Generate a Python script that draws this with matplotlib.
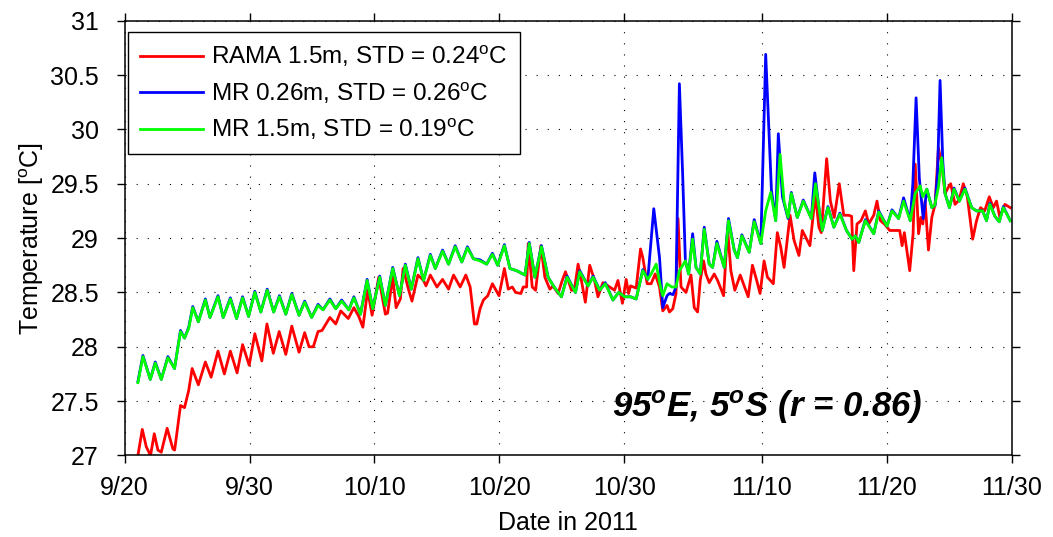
import numpy as np
import matplotlib
matplotlib.use("Agg")
from matplotlib import pyplot as plt

plt.rcParams['font.family'] = 'Liberation Sans'
plt.rcParams['mathtext.fontset'] = 'custom'
plt.rcParams['mathtext.rm'] = 'Liberation Sans'
plt.rcParams['mathtext.it'] = 'Liberation Sans:italic'
plt.rcParams['mathtext.bf'] = 'Liberation Sans:italic:bold'

# days since 20 Sep 2011, temperature in degC
rama_days = [1.06, 1.41, 1.73, 2.07, 2.37, 2.66, 2.93, 3.4, 3.86, 4.0, 4.47, 4.79, 5.13, 5.4, 5.9,
             6.46, 6.92, 7.47, 7.98, 8.46, 9.0, 9.44, 9.97, 10.42, 10.98, 11.39, 11.9, 12.37, 12.9,
             13.38, 13.96, 14.41, 14.76, 15.1, 15.48, 15.8, 16.43, 16.9, 17.3, 17.9, 18.35, 18.74,
             19.07, 19.45, 19.81, 20.34, 20.87, 21.05, 21.46, 21.73, 22.07, 22.29, 22.74, 23.0,
             23.48, 23.93, 24.12, 24.47, 25.0, 25.45, 25.93, 26.33, 26.86, 27.31, 27.66, 28.0,
             28.19, 28.45, 28.72, 29.07, 29.44, 29.97, 30.4, 30.71, 31.03, 31.3, 31.72, 31.91,
             32.18, 32.31, 32.63, 32.9, 33.32, 33.64, 34.04, 34.3, 34.7, 35.0, 35.29, 35.77, 36.0,
             36.3, 36.55, 36.88, 37.23, 37.6, 37.89, 38.29, 38.7, 39.22, 39.49, 39.85, 40.15,
             40.34, 40.5, 40.95, 41.3, 41.48, 41.83, 42.15, 42.47, 42.82, 43.08, 43.42, 43.61,
             43.88, 44.14, 44.3, 44.54, 44.94, 45.34, 45.6, 45.87, 46.08, 46.35, 46.53, 46.8,
             47.2, 47.47, 47.95, 48.27, 48.53, 48.85, 49.28, 49.92, 50.26, 50.6, 50.87, 51.19,
             51.46, 51.93, 52.25, 52.52, 52.79, 53.27, 53.59, 53.98, 54.25, 54.86, 55.3, 55.58,
             55.77, 56.2, 56.5, 56.81, 57.21, 57.57, 57.96, 58.2, 58.37, 58.63, 58.95, 59.3,
             59.57, 59.97, 60.23, 60.5, 60.82, 61.25, 61.7, 62.05, 62.24, 62.42, 62.85, 63.12,
             63.29, 63.56, 63.74, 63.9, 64.08, 64.35, 64.62, 64.88, 65.15, 65.41, 65.68, 65.95,
             66.13, 66.48, 66.8, 67.14, 67.46, 67.89, 68.2, 68.52, 68.85, 69.22, 69.54, 69.8,
             70.07, 70.47, 70.9]
rama_temp = [27.00, 27.24, 27.08, 27.00, 27.20, 27.05, 27.03, 27.25, 27.06, 27.05, 27.46, 27.44,
             27.60, 27.80, 27.65, 27.86, 27.72, 27.96, 27.75, 27.96, 27.76, 28.02, 27.83, 28.12,
             27.87, 28.21, 27.94, 28.14, 27.93, 28.19, 27.95, 28.13, 28.00, 28.00, 28.14, 28.15,
             28.27, 28.21, 28.33, 28.26, 28.36, 28.28, 28.18, 28.52, 28.29, 28.64, 28.30, 28.31,
             28.64, 28.36, 28.44, 28.72, 28.52, 28.42, 28.66, 28.61, 28.56, 28.66, 28.55, 28.62,
             28.53, 28.66, 28.55, 28.66, 28.55, 28.21, 28.21, 28.35, 28.43, 28.47, 28.58, 28.47,
             28.72, 28.53, 28.55, 28.50, 28.49, 28.55, 28.55, 28.95, 28.55, 28.52, 28.93, 28.64,
             28.53, 28.56, 28.49, 28.60, 28.69, 28.52, 28.52, 28.76, 28.62, 28.41, 28.75, 28.62,
             28.46, 28.59, 28.56, 28.52, 28.61, 28.40, 28.62, 28.49, 28.56, 28.54, 28.90, 28.82,
             28.58, 28.58, 28.67, 28.55, 28.33, 28.38, 28.32, 28.35, 28.49, 29.18, 28.55, 28.50,
             28.66, 28.36, 28.32, 28.61, 28.79, 28.67, 28.59, 28.67, 28.61, 28.47, 29.08, 28.70,
             28.52, 28.66, 28.46, 28.75, 28.61, 28.49, 28.79, 28.64, 28.58, 29.05, 28.92, 28.73,
             29.21, 28.98, 28.84, 29.07, 28.93, 29.40, 29.10, 29.05, 29.73, 29.34, 29.19, 29.50,
             29.21, 29.21, 29.20, 28.70, 29.13, 29.16, 29.25, 29.13, 29.21, 29.34, 29.16, 29.13,
             29.07, 29.07, 29.07, 28.93, 29.05, 28.70, 29.04, 29.68, 29.04, 29.19, 29.13, 29.34,
             28.89, 29.19, 29.31, 29.83, 29.68, 29.41, 29.47, 29.50, 29.31, 29.35, 29.50, 29.38,
             28.99, 29.16, 29.28, 29.25, 29.38, 29.28, 29.34, 29.19, 29.31, 29.28]

mr15_days = [1.06, 1.46, 2.05, 2.45, 2.93, 3.46, 3.99, 4.47, 4.79, 5.13, 5.45, 5.9, 6.46, 6.83,
             7.47, 7.89, 8.46, 8.96, 9.44, 9.92, 10.42, 10.9, 11.41, 11.93, 12.39, 12.9, 13.38,
             13.96, 14.41, 14.97, 15.48, 15.88, 16.43, 16.9, 17.37, 17.95, 18.35, 18.88, 19.41,
             19.86, 20.42, 20.87, 21.46, 22.0, 22.47, 22.95, 23.48, 23.93, 24.47, 24.87, 25.45,
             25.93, 26.46, 26.99, 27.44, 27.92, 28.45, 28.98, 29.44, 29.86, 30.4, 30.85, 31.38,
             32.05, 32.39, 32.84, 33.37, 33.9, 34.38, 34.97, 35.42, 36.09, 36.43, 37.1, 37.5,
             38.03, 38.48, 39.09, 39.55, 40.02, 40.5, 40.95, 41.48, 41.88, 42.15, 42.55, 42.9,
             43.08, 43.42, 43.8, 44.14, 44.41, 44.89, 45.15, 45.47, 45.74, 46.08, 46.4, 46.8,
             47.07, 47.41, 48.0, 48.34, 48.8, 49.06, 49.41, 50.0, 50.4, 50.93, 51.32, 51.72,
             52.12, 52.47, 52.79, 53.11, 53.37, 53.85, 54.33, 54.97, 55.31, 55.58, 55.85, 56.3,
             56.78, 57.26, 57.79, 58.24, 58.5, 58.77, 59.3, 59.97, 60.37, 61.03, 61.43, 61.96,
             62.36, 62.89, 63.29, 63.69, 63.9, 64.22, 64.62, 64.85, 65.15, 65.41, 65.68, 66.03,
             66.4, 66.83, 67.27, 67.81, 68.2, 68.69, 69.0, 69.27, 69.67, 70.02, 70.34, 70.9]
mr15_temp = [27.67, 27.91, 27.70, 27.85, 27.70, 27.90, 27.80, 28.14, 28.08, 28.17, 28.36, 28.23,
             28.43, 28.27, 28.46, 28.27, 28.44, 28.26, 28.45, 28.28, 28.50, 28.32, 28.52, 28.32,
             28.46, 28.30, 28.48, 28.29, 28.41, 28.27, 28.38, 28.34, 28.43, 28.35, 28.42, 28.34,
             28.45, 28.30, 28.61, 28.35, 28.64, 28.38, 28.72, 28.47, 28.75, 28.53, 28.81, 28.61,
             28.84, 28.72, 28.88, 28.76, 28.92, 28.78, 28.91, 28.81, 28.79, 28.76, 28.85, 28.75,
             28.93, 28.72, 28.70, 28.66, 28.95, 28.64, 28.92, 28.64, 28.55, 28.46, 28.64, 28.50,
             28.69, 28.56, 28.64, 28.52, 28.58, 28.43, 28.50, 28.46, 28.46, 28.44, 28.70, 28.62,
             28.67, 28.76, 28.55, 28.47, 28.58, 28.55, 28.55, 28.70, 28.79, 28.67, 28.99, 28.73,
             28.67, 29.08, 28.76, 28.73, 28.95, 28.73, 29.16, 28.89, 28.82, 29.02, 28.87, 29.15,
             28.95, 29.25, 29.42, 29.16, 29.77, 29.34, 29.19, 29.41, 29.19, 29.34, 29.18, 29.50,
             29.28, 29.07, 29.28, 29.10, 29.22, 29.07, 28.99, 29.02, 28.96, 29.16, 29.04, 29.24,
             29.11, 29.25, 29.18, 29.34, 29.16, 29.41, 29.48, 29.38, 29.45, 29.28, 29.30, 29.47,
             29.74, 29.41, 29.28, 29.45, 29.34, 29.45, 29.28, 29.25, 29.25, 29.16, 29.31, 29.20,
             29.15, 29.28, 29.16]

mr026_days = [1.06, 1.46, 2.05, 2.45, 2.93, 3.46, 3.99, 4.47, 4.79, 5.13, 5.45, 5.9, 6.46, 6.83,
              7.47, 7.89, 8.46, 8.96, 9.44, 9.92, 10.42, 10.9, 11.41, 11.93, 12.39, 12.9, 13.38,
              13.96, 14.41, 14.97, 15.48, 15.88, 16.43, 16.9, 17.37, 17.95, 18.35, 18.88, 19.41,
              19.86, 20.42, 20.87, 21.46, 22.0, 22.47, 22.95, 23.48, 23.93, 24.47, 24.87, 25.45,
              25.93, 26.46, 26.99, 27.44, 27.92, 28.45, 28.98, 29.44, 29.86, 30.4, 30.85, 31.38,
              32.05, 32.39, 32.84, 33.37, 33.9, 34.38, 34.97, 35.42, 36.09, 36.43, 37.1, 37.5,
              38.03, 38.48, 39.09, 39.55, 40.02, 40.5, 40.95, 41.48, 41.88, 42.36, 42.82, 43.08,
              43.42, 43.61, 43.9, 44.14, 44.41, 44.67, 44.89, 45.15, 45.47, 45.74, 46.08, 46.4,
              46.8, 47.07, 47.41, 48.0, 48.34, 48.8, 49.06, 49.41, 50.0, 50.4, 50.93, 51.32,
              51.78, 52.12, 52.33, 52.66, 53.11, 53.37, 53.85, 54.33, 54.97, 55.25, 55.58, 55.85,
              56.3, 56.78, 57.26, 57.79, 58.24, 58.5, 58.77, 59.3, 59.97, 60.37, 61.03, 61.43,
              61.96, 62.36, 62.89, 63.1, 63.36, 63.62, 63.93, 64.22, 64.62, 64.88, 65.08, 65.28,
              65.5, 65.68, 66.03, 66.4, 66.83, 67.27, 67.81, 68.2, 68.69, 69.0, 69.27, 69.67,
              70.02, 70.34, 70.9]
mr026_temp = [27.68, 27.92, 27.70, 27.86, 27.70, 27.91, 27.80, 28.15, 28.08, 28.18, 28.37, 28.23,
              28.44, 28.27, 28.47, 28.27, 28.45, 28.26, 28.46, 28.28, 28.51, 28.32, 28.53, 28.32,
              28.47, 28.30, 28.49, 28.29, 28.42, 28.27, 28.39, 28.34, 28.44, 28.35, 28.43, 28.34,
              28.46, 28.30, 28.62, 28.35, 28.65, 28.38, 28.73, 28.47, 28.76, 28.53, 28.82, 28.61,
              28.85, 28.72, 28.89, 28.76, 28.93, 28.78, 28.92, 28.81, 28.80, 28.76, 28.86, 28.75,
              28.94, 28.72, 28.70, 28.66, 28.96, 28.64, 28.93, 28.64, 28.55, 28.46, 28.65, 28.50,
              28.70, 28.56, 28.65, 28.52, 28.59, 28.43, 28.50, 28.46, 28.46, 28.44, 28.71, 28.62,
              29.27, 28.82, 28.36, 28.47, 28.49, 28.48, 28.55, 30.42, 29.59, 28.79, 28.67, 29.04,
              28.73, 28.67, 29.10, 28.76, 28.73, 28.97, 28.73, 29.18, 28.89, 28.82, 29.03, 28.87,
              29.17, 28.95, 30.69, 29.44, 29.16, 29.96, 29.38, 29.18, 29.42, 29.19, 29.35, 29.18,
              29.60, 29.28, 29.07, 29.29, 29.10, 29.23, 29.07, 28.99, 29.02, 28.96, 29.17, 29.04,
              29.25, 29.11, 29.26, 29.18, 29.37, 29.16, 29.50, 30.29, 29.55, 29.18, 29.45, 29.28,
              29.30, 29.60, 30.45, 29.70, 29.41, 29.28, 29.46, 29.34, 29.46, 29.28, 29.25, 29.25,
              29.16, 29.32, 29.20, 29.15, 29.29, 29.16]

tick_days = [0, 10, 20, 30, 40, 51, 61, 71]
tick_labels = ['9/20', '9/30', '10/10', '10/20', '10/30', '11/10', '11/20', '11/30']
yticks = [27, 27.5, 28, 28.5, 29, 29.5, 30, 30.5, 31]

fig = plt.figure(figsize=(10.53, 5.37), dpi=100)
ax = fig.add_axes([0.1184, 0.1518, 0.8422, 0.8097])

ax.plot(rama_days, rama_temp, color=(1, 0, 0), lw=2,
        label='RAMA 1.5m, STD = 0.24$^{\\mathrm{o}}$C')
ax.plot(mr026_days, mr026_temp, color=(0, 0, 1), lw=2,
        label='MR 0.26m, STD = 0.26$^{\\mathrm{o}}$C')
ax.plot(mr15_days, mr15_temp, color=(0, 1, 0), lw=2,
        label='MR 1.5m, STD = 0.19$^{\\mathrm{o}}$C')

ax.set_xlim(0, 71)
ax.set_ylim(27, 31)
ax.set_xticks(tick_days)
ax.set_xticklabels(tick_labels)
ax.set_yticks(yticks)
ax.set_yticklabels(['27', '27.5', '28', '28.5', '29', '29.5', '30', '30.5', '31'])
ax.tick_params(direction='out', length=5.5, width=1, labelsize=18, top=True, right=True,
               labeltop=False, labelright=False)
ax.tick_params(axis='x', pad=9)
ax.tick_params(axis='y', pad=13)
for s in ax.spines.values():
    s.set_linewidth(1.1)

ax.grid(True, color='k', lw=0.8, linestyle=(0, (1, 9)))
ax.set_axisbelow(True)

ax.set_xlabel('Date in 2011', fontsize=18, labelpad=8)
ax.set_ylabel('Temperature [$^{\\mathrm{o}}$C]', fontsize=18, labelpad=3)

leg = ax.legend(loc='upper left', bbox_to_anchor=(0.0037, 0.974), borderaxespad=0,
                fontsize=17.5, frameon=True, fancybox=False, framealpha=1,
                edgecolor='k', handlelength=2.6, handletextpad=0.33,
                labelspacing=0.46, borderpad=0.5)
leg.get_frame().set_linewidth(1.0)

ax.text(39.0, 27.35, r'95$^{\mathbf{o}}$E, 5$^{\mathbf{o}}$S (r = 0.86)', fontsize=25,
        fontweight='bold', style='italic', ha='left', va='baseline')

fig.savefig('out.png', dpi=100)
